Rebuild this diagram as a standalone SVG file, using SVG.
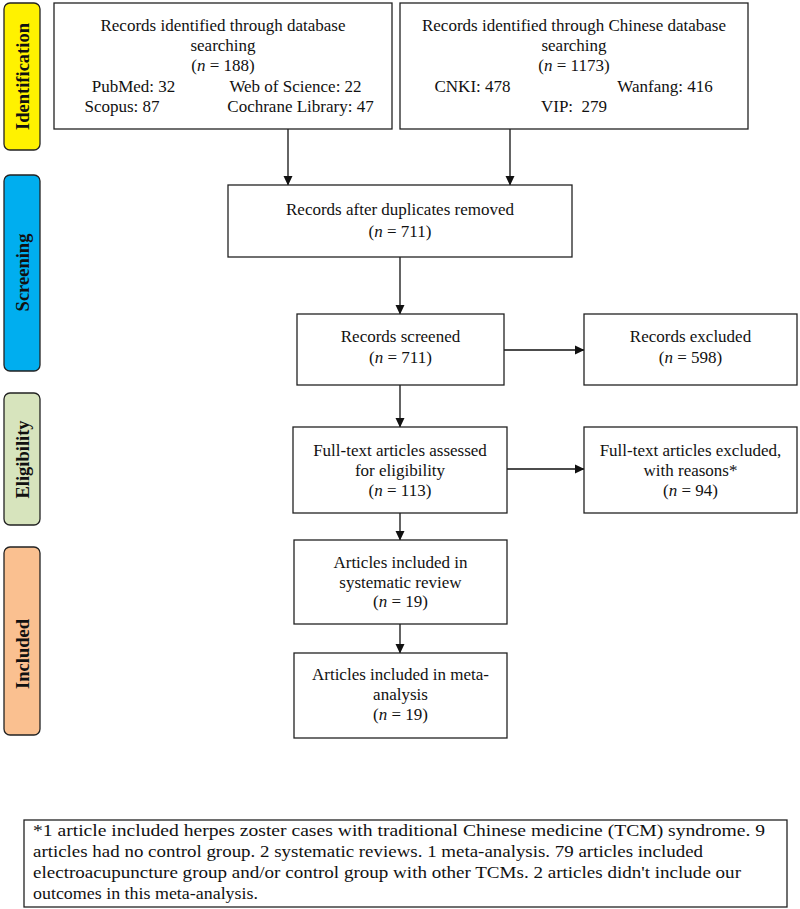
<svg xmlns="http://www.w3.org/2000/svg" width="800" height="909" viewBox="0 0 800 909">
<style>
.box{fill:#fff;stroke:#222;stroke-width:1.3}
.side{stroke:#222;stroke-width:1.3}
.t{font-family:"Liberation Serif","Times New Roman",serif;font-size:17px;fill:#111;text-anchor:middle}
.s{font-family:"Liberation Serif","Times New Roman",serif;font-size:18.5px;font-weight:bold;fill:#111;text-anchor:middle}
.f{font-family:"Liberation Serif","Times New Roman",serif;font-size:17.5px;fill:#111}
.c{stroke:#111;stroke-width:1.3;fill:none}
</style>
<defs>
<marker id="ah" markerWidth="10" markerHeight="10" refX="9" refY="5" orient="auto" markerUnits="userSpaceOnUse">
<path d="M0,0.5 L9.5,5 L0,9.5 Z" fill="#111"/>
</marker>
</defs>

<g id="stage-identification">
<rect class="side" x="4" y="3" width="36" height="147" rx="6" fill="#FFF200"/>
<text class="s" transform="translate(28.5,76.5) rotate(-90)">Identification</text>
</g>
<g id="stage-screening">
<rect class="side" x="4" y="175" width="36" height="196" rx="6" fill="#00AEEF"/>
<text class="s" transform="translate(28.5,272.5) rotate(-90)">Screening</text>
</g>
<g id="stage-eligibility">
<rect class="side" x="4" y="393" width="36" height="132" rx="6" fill="#D7E4BD"/>
<text class="s" transform="translate(28.5,459.5) rotate(-90)">Eligibility</text>
</g>
<g id="stage-included">
<rect class="side" x="4" y="547" width="36" height="188" rx="6" fill="#FAC090"/>
<text class="s" transform="translate(28.5,654) rotate(-90)">Included</text>
</g>

<g id="connectors">
<line class="c" x1="288" y1="129" x2="288" y2="185" marker-end="url(#ah)"/>
<line class="c" x1="510" y1="129" x2="510" y2="185" marker-end="url(#ah)"/>
<line class="c" x1="400" y1="257" x2="400" y2="314" marker-end="url(#ah)"/>
<line class="c" x1="504" y1="350" x2="584" y2="350" marker-end="url(#ah)"/>
<line class="c" x1="400" y1="385" x2="400" y2="427" marker-end="url(#ah)"/>
<line class="c" x1="507" y1="469" x2="584" y2="469" marker-end="url(#ah)"/>
<line class="c" x1="400" y1="513" x2="400" y2="540" marker-end="url(#ah)"/>
<line class="c" x1="400" y1="624" x2="400" y2="653" marker-end="url(#ah)"/>
</g>

<g id="db-search">
<rect class="box" x="54" y="3" width="338" height="126"/>
<text class="t" x="223" y="31">Records identified through database</text>
<text class="t" x="223" y="51">searching</text>
<text class="t" x="223" y="71">(<tspan font-style="italic">n</tspan> = 188)</text>
<text class="t" x="133.5" y="92">PubMed: 32</text>
<text class="t" x="295.5" y="92">Web of Science: 22</text>
<text class="t" x="122" y="112">Scopus: 87</text>
<text class="t" x="300.5" y="112">Cochrane Library: 47</text>
</g>

<g id="cn-search">
<rect class="box" x="400" y="3" width="348" height="126"/>
<text class="t" x="574" y="31">Records identified through Chinese database</text>
<text class="t" x="574" y="51">searching</text>
<text class="t" x="574" y="71">(<tspan font-style="italic">n</tspan> = 1173)</text>
<text class="t" x="472.5" y="92">CNKI: 478</text>
<text class="t" x="665" y="92">Wanfang: 416</text>
<text class="t" x="574" y="112" xml:space="preserve">VIP:  279</text>
</g>

<g id="dedup">
<rect class="box" x="228" y="185" width="344" height="72"/>
<text class="t" x="400" y="215">Records after duplicates removed</text>
<text class="t" x="400" y="237">(<tspan font-style="italic">n</tspan> = 711)</text>
</g>

<g id="screened">
<rect class="box" x="297" y="314" width="207" height="71"/>
<text class="t" x="400.5" y="342">Records screened</text>
<text class="t" x="400.5" y="363">(<tspan font-style="italic">n</tspan> = 711)</text>
</g>

<g id="excluded">
<rect class="box" x="584" y="314" width="213" height="71"/>
<text class="t" x="690.5" y="342">Records excluded</text>
<text class="t" x="690.5" y="363">(<tspan font-style="italic">n</tspan> = 598)</text>
</g>

<g id="fulltext">
<rect class="box" x="293" y="427" width="214" height="86"/>
<text class="t" x="400" y="456">Full-text articles assessed</text>
<text class="t" x="400" y="476">for eligibility</text>
<text class="t" x="400" y="496">(<tspan font-style="italic">n</tspan> = 113)</text>
</g>

<g id="fulltext-excluded">
<rect class="box" x="584" y="427" width="213" height="86"/>
<text class="t" x="690.5" y="456">Full-text articles excluded,</text>
<text class="t" x="690.5" y="476">with reasons*</text>
<text class="t" x="690.5" y="496">(<tspan font-style="italic">n</tspan> = 94)</text>
</g>

<g id="systematic-review">
<rect class="box" x="294" y="540" width="213" height="84"/>
<text class="t" x="400.5" y="568">Articles included in</text>
<text class="t" x="400.5" y="588">systematic review</text>
<text class="t" x="400.5" y="607">(<tspan font-style="italic">n</tspan> = 19)</text>
</g>

<g id="meta-analysis">
<rect class="box" x="294" y="653" width="213" height="85"/>
<text class="t" x="400.5" y="680">Articles included in meta-</text>
<text class="t" x="400.5" y="700">analysis</text>
<text class="t" x="400.5" y="720">(<tspan font-style="italic">n</tspan> = 19)</text>
</g>

<g id="footnote">
<rect class="box" x="24" y="820" width="763" height="87"/>
<text class="f" x="33" y="836" textLength="732" lengthAdjust="spacingAndGlyphs">*1 article included herpes zoster cases with traditional Chinese medicine (TCM) syndrome. 9</text>
<text class="f" x="33" y="857" textLength="670" lengthAdjust="spacingAndGlyphs">articles had no control group. 2 systematic reviews. 1 meta-analysis. 79 articles included</text>
<text class="f" x="33" y="878" textLength="708" lengthAdjust="spacingAndGlyphs">electroacupuncture group and/or control group with other TCMs. 2 articles didn't include our</text>
<text class="f" x="33" y="899" textLength="225" lengthAdjust="spacingAndGlyphs">outcomes in this meta-analysis.</text>
</g>
</svg>
